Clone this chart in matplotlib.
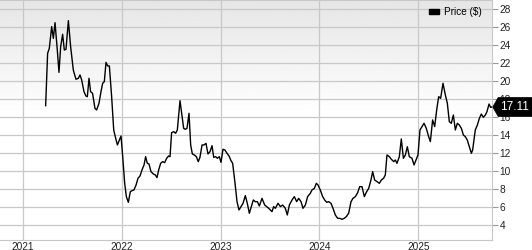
import numpy as np
import matplotlib
matplotlib.use("Agg")
import matplotlib.pyplot as plt
from matplotlib.patches import Patch
from matplotlib.path import Path

plt.rcParams['font.family'] = ['Liberation Sans', 'DejaVu Sans']

# weekly closing price, dates as decimal years
dates = [
    2021.229, 2021.249, 2021.266, 2021.290, 2021.307, 2021.324, 2021.347, 2021.364,
    2021.381, 2021.401, 2021.418, 2021.435, 2021.459, 2021.482, 2021.509, 2021.536,
    2021.560, 2021.577, 2021.594, 2021.617, 2021.637, 2021.651, 2021.668, 2021.684,
    2021.704, 2021.728, 2021.745, 2021.769, 2021.789, 2021.806, 2021.823, 2021.840,
    2021.857, 2021.874, 2021.897, 2021.918, 2021.934, 2021.955, 2021.975, 2021.992,
    2022.009, 2022.029, 2022.046, 2022.066, 2022.086, 2022.103, 2022.123, 2022.144,
    2022.164, 2022.184, 2022.204, 2022.225, 2022.241, 2022.258, 2022.275, 2022.295,
    2022.319, 2022.339, 2022.356, 2022.373, 2022.393, 2022.413, 2022.434, 2022.454,
    2022.474, 2022.488, 2022.504, 2022.525, 2022.545, 2022.562, 2022.589, 2022.606,
    2022.626, 2022.643, 2022.660, 2022.680, 2022.697, 2022.714, 2022.734, 2022.754,
    2022.774, 2022.791, 2022.812, 2022.832, 2022.852, 2022.872, 2022.893, 2022.913,
    2022.930, 2022.950, 2022.967, 2022.987, 2023.004, 2023.024, 2023.044, 2023.065,
    2023.085, 2023.105, 2023.122, 2023.146, 2023.166, 2023.186, 2023.206, 2023.227,
    2023.250, 2023.270, 2023.291, 2023.311, 2023.331, 2023.351, 2023.372, 2023.392,
    2023.419, 2023.446, 2023.487, 2023.520, 2023.537, 2023.554, 2023.581, 2023.605,
    2023.628, 2023.655, 2023.675, 2023.696, 2023.723, 2023.746, 2023.770, 2023.790,
    2023.814, 2023.834, 2023.858, 2023.881, 2023.908, 2023.925, 2023.949, 2023.969,
    2023.986, 2024.009, 2024.033, 2024.053, 2024.074, 2024.094, 2024.117, 2024.138,
    2024.161, 2024.185, 2024.205, 2024.229, 2024.252, 2024.273, 2024.296, 2024.320,
    2024.340, 2024.364, 2024.387, 2024.408, 2024.431, 2024.455, 2024.478, 2024.499,
    2024.522, 2024.539, 2024.559, 2024.583, 2024.607, 2024.627, 2024.650, 2024.667,
    2024.684, 2024.708, 2024.728, 2024.752, 2024.769, 2024.785, 2024.809, 2024.829,
    2024.850, 2024.870, 2024.890, 2024.910, 2024.937, 2024.958, 2024.978, 2024.998,
    2025.018, 2025.038, 2025.059, 2025.082, 2025.106, 2025.123, 2025.146, 2025.167,
    2025.187, 2025.207, 2025.227, 2025.251, 2025.275, 2025.295, 2025.315, 2025.335,
    2025.356, 2025.376, 2025.396, 2025.416, 2025.437, 2025.457, 2025.477, 2025.497,
    2025.518, 2025.538, 2025.551, 2025.578, 2025.599, 2025.619, 2025.639, 2025.659,
    2025.680, 2025.696, 2025.717, 2025.733, 2025.744,
]
prices = [
    17.26, 23.07, 23.63, 26.04, 24.74, 26.48, 23.44, 20.96,
    23.81, 25.19, 23.44, 23.52, 26.70, 23.81, 21.22, 20.19,
    20.30, 20.67, 20.11, 18.81, 18.33, 18.26, 20.30, 18.81,
    18.63, 16.96, 16.78, 17.52, 18.81, 19.74, 19.93, 22.07,
    21.67, 21.67, 18.26, 14.56, 13.81, 12.89, 13.44, 13.89,
    11.59, 8.63, 7.15, 6.52, 7.70, 7.81, 7.89, 8.44,
    9.19, 9.44, 10.11, 10.67, 11.59, 10.85, 10.78, 9.93,
    9.67, 9.56, 9.26, 10.11, 10.85, 11.04, 10.93, 11.41,
    11.67, 11.59, 14.26, 14.37, 14.19, 14.56, 17.81, 16.41,
    14.74, 14.63, 14.74, 16.41, 12.89, 11.89, 11.78, 11.59,
    11.04, 11.52, 12.89, 12.89, 13.07, 11.89, 12.15, 12.81,
    11.52, 11.59, 11.41, 11.59, 10.96, 12.41, 12.33, 11.96,
    11.67, 11.15, 10.85, 8.63, 6.59, 5.67, 6.04, 6.41,
    7.26, 6.41, 5.30, 6.04, 6.78, 6.59, 6.59, 6.11,
    6.96, 6.22, 5.85, 5.48, 6.04, 5.85, 6.41, 6.04,
    6.22, 5.85, 5.11, 6.22, 6.78, 7.15, 6.59, 6.96,
    6.59, 5.85, 6.22, 7.15, 7.52, 7.89, 8.07, 8.63,
    8.44, 7.89, 7.15, 6.78, 6.52, 6.59, 6.41, 5.85,
    5.11, 4.74, 4.74, 4.63, 4.74, 4.93, 5.30, 6.59,
    6.96, 7.15, 7.59, 8.26, 8.26, 7.15, 7.70, 8.07,
    9.00, 9.93, 9.00, 8.81, 8.63, 9.00, 9.19, 9.56,
    11.78, 11.59, 11.30, 11.04, 11.22, 10.85, 11.59, 13.56,
    11.41, 11.78, 12.70, 11.59, 11.41, 10.67, 11.22, 11.78,
    14.56, 14.93, 15.30, 14.74, 13.81, 13.26, 15.67, 14.93,
    16.78, 18.26, 18.07, 19.74, 18.44, 17.52, 15.48, 15.30,
    16.22, 14.56, 15.30, 15.11, 14.74, 14.00, 13.81, 13.44,
    12.70, 11.96, 12.33, 14.56, 15.11, 15.85, 16.33, 15.96,
    16.22, 16.59, 17.44, 17.07, 17.11,
]
year_ticks = [2021, 2022, 2023, 2024, 2025]
price_ticks = [4, 6, 8, 10, 12, 14, 16, 18, 20, 22, 24, 26, 28]
series_label = "Price ($)"

fig = plt.figure(figsize=(5.32, 2.5), dpi=100)
ax = fig.add_axes([0, 10 / 250, 492 / 532, 240 / 250])

# soft gray gradient at the top of the plot area
grad = np.ones((256, 1))
frac = np.linspace(1, 0, 256)
grad[:, 0] = np.where(frac > 0.52, 1 - 0.10 * (frac - 0.52) / 0.48, 1.0)
ax.imshow(grad, cmap='gray', vmin=0, vmax=1, aspect='auto',
          extent=[0, 1, 0, 1], transform=ax.transAxes, zorder=0)

ax.plot(dates, prices, color='black', lw=1.0, zorder=3)

ax.set_xlim(2020.767, 2025.747)
ax.set_ylim(2.33, 29.0)
ax.set_xticks(year_ticks)
ax.set_xticklabels([str(y) for y in year_ticks])
ax.set_yticks(price_ticks)
ax.yaxis.tick_right()
ax.grid(True, color='#c8c8c8', lw=0.9, zorder=1)
ax.set_axisbelow(True)
for side in ['top', 'bottom', 'right']:
    ax.spines[side].set_color('#c8c8c8')
ax.spines['left'].set_visible(False)
ax.tick_params(axis='x', length=0, pad=1.5, labelsize=7.3, labelcolor='#222222')
ax.tick_params(axis='y', length=4.5, width=0.8, color='#999999', pad=1,
               labelsize=7.3, labelcolor='#222222')

ax.legend(handles=[Patch(color='black', label=series_label)], loc='upper right',
          frameon=False, fontsize=7.2, handlelength=1.0, handleheight=0.45,
          handletextpad=0.5, borderaxespad=0.3, bbox_to_anchor=(0.993, 1.0))


# arrow-shaped tag for the last price
def tag_box(x0, y0, width, height, mutation_size):
    pad = 0.12 * mutation_size
    x0, y0 = x0 - pad, y0 - pad * 2.5
    x1, y1 = x0 + width + 2 * pad + 10, y0 + height + 5 * pad
    tip = x0 - 5.5
    ym = (y0 + y1) / 2
    return Path([(tip, ym), (x0, y0), (x1, y0), (x1, y1), (x0, y1), (tip, ym)],
                closed=True)


last = prices[-1]
ax.annotate(f"{last:.2f}", xy=(1.0, last), xycoords=ax.get_yaxis_transform(),
            xytext=(5.5, 0), textcoords='offset points', va='center', ha='left',
            color='white', fontsize=8.5,
            bbox=dict(boxstyle=tag_box, fc='black', ec='black', lw=0.5), zorder=5,
            annotation_clip=False)

fig.savefig('out.png', dpi=100)
